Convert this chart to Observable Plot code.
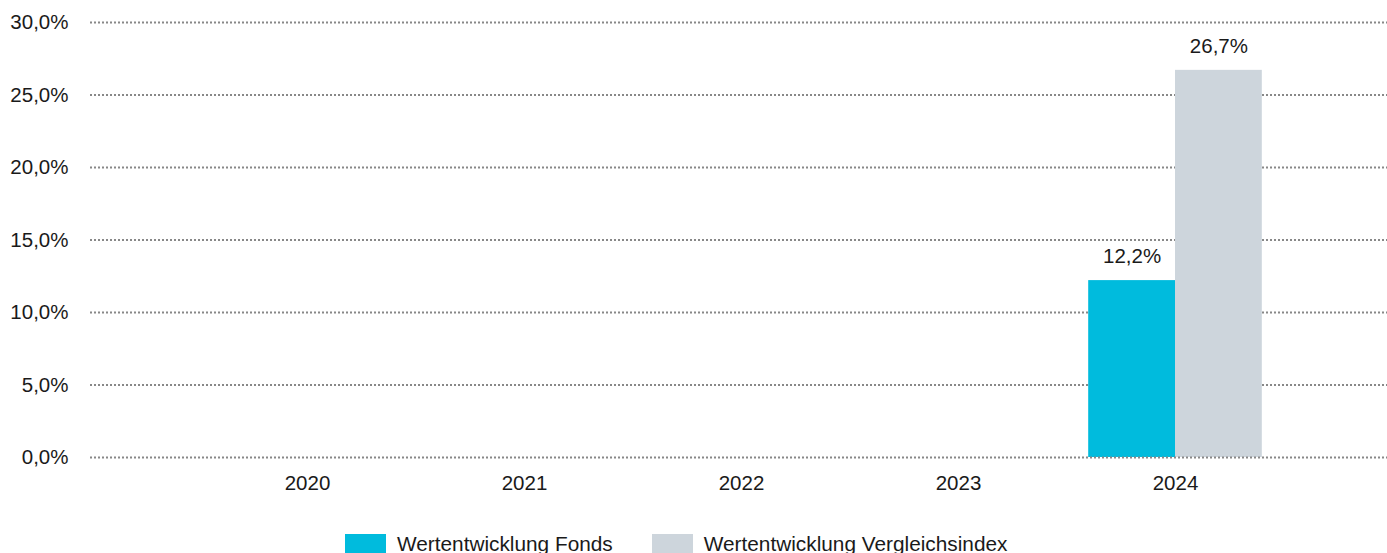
<!DOCTYPE html>
<html>
<head>
<meta charset="utf-8">
<script src="https://cdn.jsdelivr.net/npm/d3@7"></script>
<script src="https://cdn.jsdelivr.net/npm/@observablehq/plot@0.6"></script>
<style>
  html, body { margin: 0; padding: 0; background: #fff; }
  body { font-family: "Liberation Sans", Arial, sans-serif; color: #1a1a1a; width: 1387px; height: 553px; overflow: hidden; }
  #legend { display: flex; align-items: flex-start; margin-left: 345px; margin-top: 24px; font-size: 20.8px; line-height: 20px; }
  .item { display: flex; align-items: flex-start; margin-right: 39px; }
  .sw { width: 41px; height: 20px; margin-right: 11px; }
</style>
</head>
<body>
<div id="chart"></div>
<div id="legend"></div>
<script>
const years = [2020, 2021, 2022, 2023, 2024];
const fonds = [null, null, null, null, 12.2];
const vergleichsindex = [null, null, null, null, 26.7];
const seriesNames = ["Wertentwicklung Fonds", "Wertentwicklung Vergleichsindex"];
const seriesColors = ["#00bbdd", "#cdd5dc"];
const yTicks = [0, 5, 10, 15, 20, 25, 30];

const barHalf = 0.4; // bar width in year units
const rows = [];
years.forEach((yr, i) => {
  if (fonds[i] != null) rows.push({year: yr, series: seriesNames[0], value: fonds[i], x1: yr - barHalf, x2: yr});
  if (vergleichsindex[i] != null) rows.push({year: yr, series: seriesNames[1], value: vergleichsindex[i], x1: yr, x2: yr + barHalf});
});
const fmt = v => v.toFixed(1).replace(".", ",") + "%";

const chart = Plot.plot({
  width: 1387,
  height: 510,
  marginLeft: 90,
  marginRight: 0,
  marginTop: 22,
  marginBottom: 53,
  style: {fontFamily: "'Liberation Sans', Arial, sans-serif", fontSize: "20px", color: "#1a1a1a", background: "#fff"},
  x: {type: "linear", domain: [2019, 2025], range: [90, 1392]},
  y: {domain: [0, 30]},
  color: {domain: seriesNames, range: seriesColors},
  marks: [
    Plot.ruleY(yTicks.filter(d => d !== 0), {stroke: "#888", strokeWidth: 2, strokeDasharray: "2,2"}),
    Plot.rectY(rows, {x1: "x1", x2: "x2", y1: 0, y2: "value", fill: "series"}),
    Plot.ruleY([0], {stroke: "#888", strokeWidth: 2, strokeDasharray: "2,2"}),
    Plot.text(rows, {x: d => (d.x1 + d.x2) / 2, y: "value", text: d => fmt(d.value), dy: -24, fontSize: 20.5, fill: "#1a1a1a"}),
    Plot.axisY({ticks: yTicks, tickFormat: fmt, tickSize: 0, tickPadding: 22, label: null, fontSize: 20.5}),
    Plot.axisX({ticks: years, tickFormat: d => String(d), tickSize: 0, tickPadding: 18, label: null, fontSize: 20.5})
  ]
});
document.getElementById("chart").appendChild(chart);

const legend = document.getElementById("legend");
seriesNames.forEach((name, i) => {
  const item = document.createElement("div");
  item.className = "item";
  const sw = document.createElement("div");
  sw.className = "sw";
  sw.style.background = seriesColors[i];
  const label = document.createElement("span");
  label.textContent = name;
  item.appendChild(sw);
  item.appendChild(label);
  legend.appendChild(item);
});
</script>
</body>
</html>
